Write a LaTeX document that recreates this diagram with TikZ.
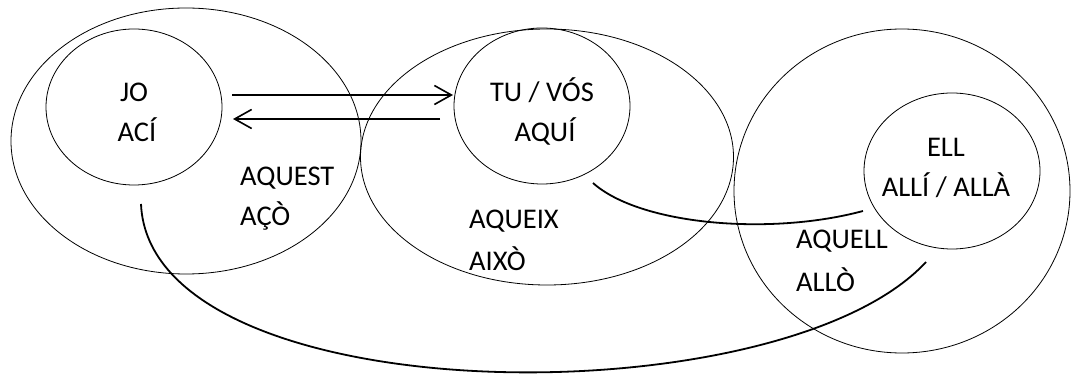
\documentclass[tikz,border=0pt]{standalone}
\usepackage{fontspec}
\setmainfont{Carlito}
\usetikzlibrary{shapes.geometric,arrows.meta}
\begin{document}
\begin{tikzpicture}[x=1pt,y=-1pt,
  oval/.style={draw,ellipse,inner sep=0pt,line width=0.8pt},
  lbl/.style={inner sep=0pt,font=\fontsize{28.5}{41}\selectfont},
  conn/.style={line width=1.8pt},
  arr/.style={line width=1.6pt,-{Straight Barb[length=17pt,width=19pt,line width=1.6pt]}}]
\useasboundingbox (0,0) rectangle (1074,374);
% ellipses
\node[oval,minimum width=350pt,minimum height=266pt] (big1) at (186,141) {};
\node[oval,minimum width=176pt,minimum height=156pt] (jo) at (134,107) {};
\node[oval,minimum width=373pt,minimum height=256pt] (big2) at (547,157) {};
\node[oval,minimum width=176pt,minimum height=156pt] (tu) at (542,106) {};
\node[oval,minimum width=336pt,minimum height=324pt] (big3) at (902,191) {};
\node[oval,minimum width=176pt,minimum height=156pt] (ell) at (952,171) {};
% texts
\node[lbl,anchor=base] (t1) at (134,102) {JO};
\node[lbl,anchor=base] (t2) at (137,142) {ACÍ};
\node[lbl,anchor=base] (t3) at (542,102) {TU / VÓS};
\node[lbl,anchor=base] (t4) at (545,142) {AQUÍ};
\node[lbl,anchor=base] (t5) at (946,157) {ELL};
\node[lbl,anchor=base] (t6) at (946,197) {ALLÍ / ALLÀ};
\node[lbl,anchor=base west] (t7) at (240,186) {AQUEST};
\node[lbl,anchor=base west] (t8) at (240,226) {AÇÒ};
\node[lbl,anchor=base west] (t9) at (469,229) {AQUEIX};
\node[lbl,anchor=base west] (t10) at (469,271) {AIXÒ};
\node[lbl,anchor=base west] (t11) at (796,249) {AQUELL};
\node[lbl,anchor=base west] (t12) at (796,291) {ALLÒ};
% arrow ends
\coordinate (a1s) at (232,95);
\coordinate (a1e) at (453,95);
\coordinate (a2s) at (440,119);
\coordinate (a2e) at (233,119);
\draw[arr] (a1s) -- (a1e);
\draw[arr] (a2s) -- (a2e);
% curves
\coordinate (c1s) at (593,183);
\coordinate (c1e) at (863,211);
\draw[conn] (c1s) .. controls (640,225) and (770,236) .. (c1e);
\coordinate (c2s) at (141,204);
\coordinate (c2e) at (926,262);
\draw[conn] (c2s) .. controls (150,415) and (780,420) .. (c2e);
\end{tikzpicture}
\end{document}
